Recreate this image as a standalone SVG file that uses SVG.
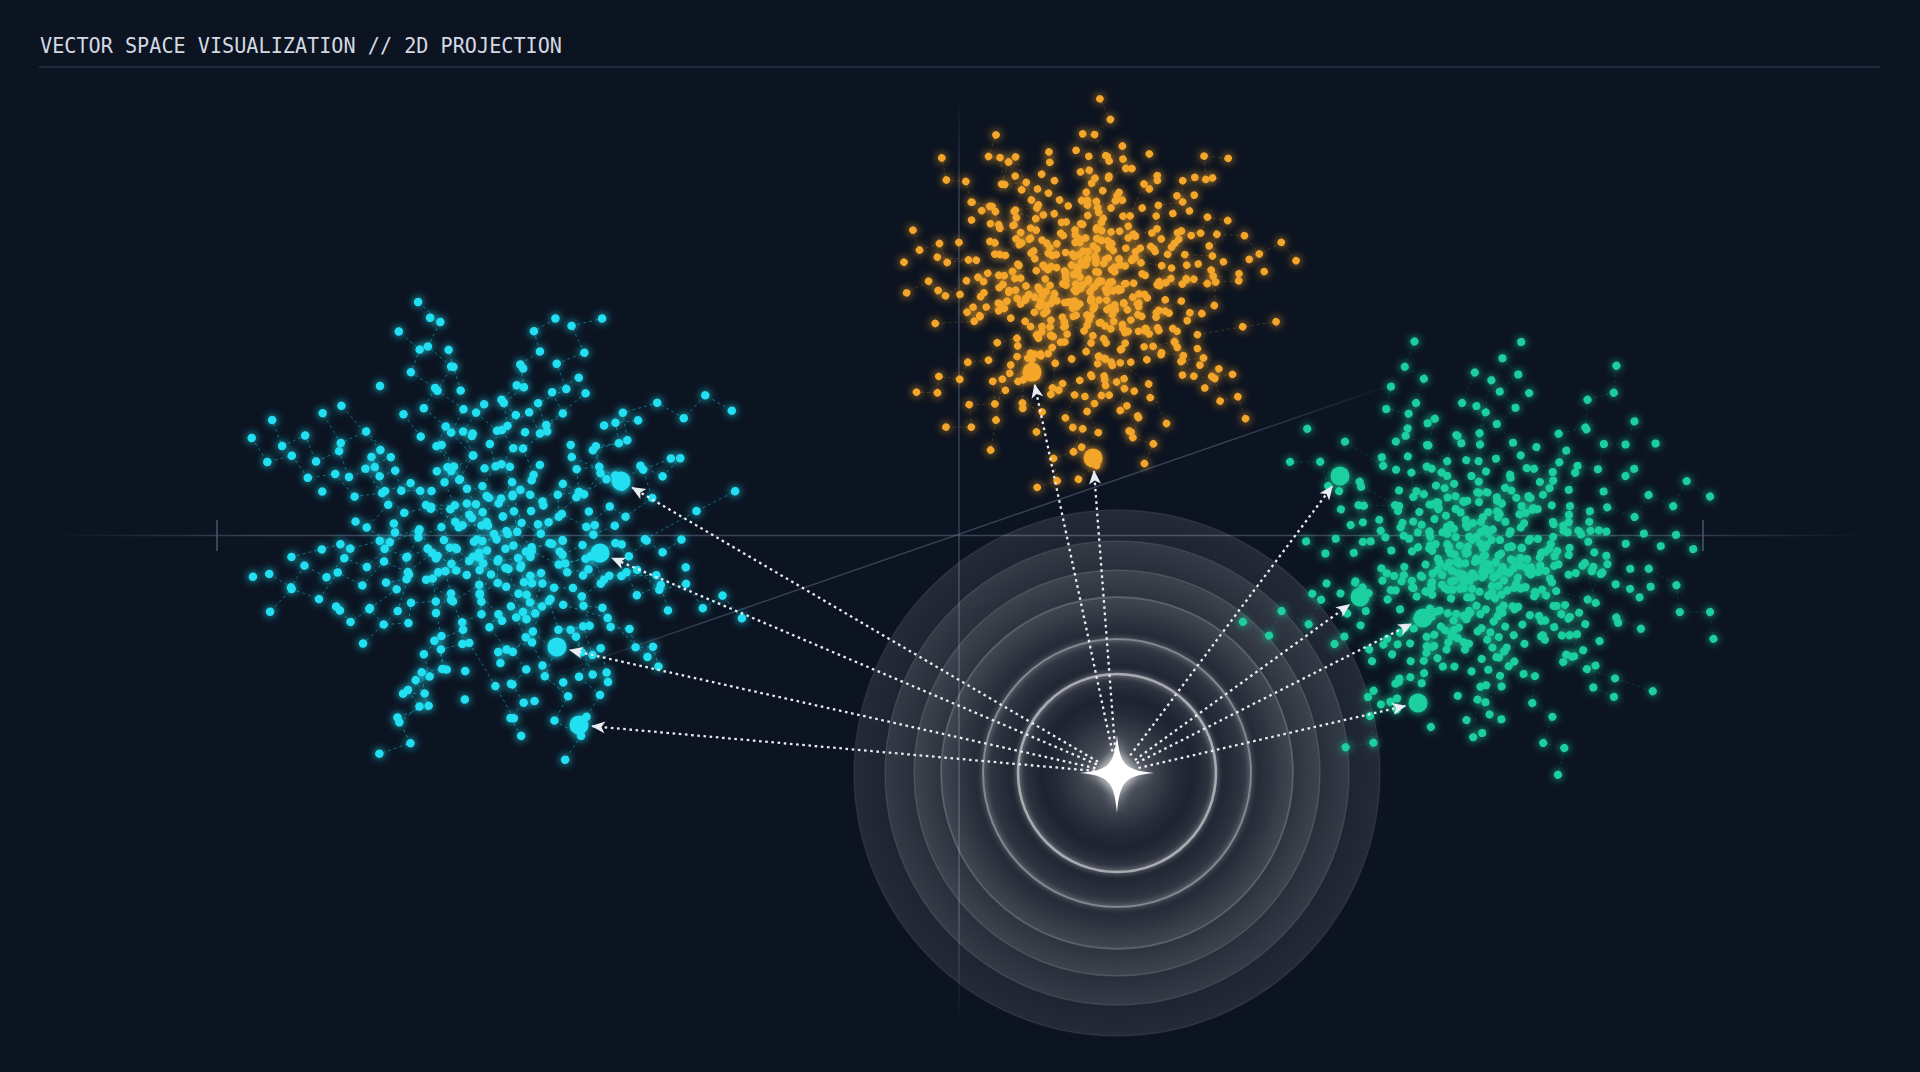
<svg xmlns="http://www.w3.org/2000/svg" xmlns:xlink="http://www.w3.org/1999/xlink" width="1920" height="1072" viewBox="0 0 1920 1072">
<defs>
<style>
.title{font-family:"DejaVu Sans Mono","Liberation Mono",monospace;font-size:20.5px;fill:#d3d9e2}
.arrow{fill:none;stroke:#e9edf3;stroke-width:2.3;stroke-dasharray:2.6 3.6;marker-end:url(#ah)}
.rim{fill:url(#ringFill);stroke:#ffffff}
.net{fill:none;stroke-width:1;stroke-dasharray:3 3}
</style>
<marker id="ah" markerUnits="userSpaceOnUse" markerWidth="16" markerHeight="14" refX="14" refY="7" orient="auto" viewBox="0 0 16 14">
<path d="M15 7 L1 1 L4.5 7 L1 13 Z" fill="#e9edf3"/>
</marker>
<radialGradient id="ringFill" cx="50%" cy="50%" r="50%">
<stop offset="0" stop-color="#fff" stop-opacity="0"/>
<stop offset="0.6" stop-color="#fff" stop-opacity="0.01"/>
<stop offset="1" stop-color="#fff" stop-opacity="0.10"/>
</radialGradient>
<radialGradient id="starGlow" cx="50%" cy="50%" r="50%">
<stop offset="0" stop-color="#fff" stop-opacity="0.7"/>
<stop offset="0.3" stop-color="#fff" stop-opacity="0.25"/>
<stop offset="1" stop-color="#fff" stop-opacity="0"/>
</radialGradient>
<linearGradient id="hAxis" gradientUnits="userSpaceOnUse" x1="50" y1="0" x2="1870" y2="0">
<stop offset="0" stop-color="#5a6680" stop-opacity="0"/>
<stop offset="0.12" stop-color="#5a6680" stop-opacity="0.6"/>
<stop offset="0.88" stop-color="#5a6680" stop-opacity="0.6"/>
<stop offset="1" stop-color="#5a6680" stop-opacity="0"/>
</linearGradient>
<linearGradient id="vAxis" gradientUnits="userSpaceOnUse" x1="0" y1="95" x2="0" y2="1025">
<stop offset="0" stop-color="#5a6680" stop-opacity="0"/>
<stop offset="0.12" stop-color="#5a6680" stop-opacity="0.55"/>
<stop offset="0.88" stop-color="#5a6680" stop-opacity="0.55"/>
<stop offset="1" stop-color="#5a6680" stop-opacity="0"/>
</linearGradient>
<linearGradient id="dAxis" gradientUnits="userSpaceOnUse" x1="540" y1="679" x2="1408" y2="379">
<stop offset="0" stop-color="#5a6680" stop-opacity="0"/>
<stop offset="0.2" stop-color="#5a6680" stop-opacity="0.55"/>
<stop offset="0.8" stop-color="#5a6680" stop-opacity="0.55"/>
<stop offset="1" stop-color="#5a6680" stop-opacity="0"/>
</linearGradient>
<filter id="glow" x="-20%" y="-20%" width="140%" height="140%">
<feGaussianBlur in="SourceGraphic" stdDeviation="4" result="b"/>
<feMerge><feMergeNode in="b"/><feMergeNode in="SourceGraphic"/></feMerge>
</filter>
<filter id="soft" x="-20%" y="-20%" width="140%" height="140%">
<feGaussianBlur stdDeviation="2.5"/>
</filter>
<filter id="starBlur" x="-50%" y="-50%" width="200%" height="200%">
<feGaussianBlur stdDeviation="6"/>
</filter>
<path id="pd" fill="none" stroke-linecap="round" vector-effect="non-scaling-stroke" d="M0 0h.01M22 -15h.01M40 -8h.01M55 -30h.01M78 -22h.01M95 -45h.01M110 -38h.01M130 -60h.01M118 -85h.01M140 -100h.01M-10 20h.01M-32 35h.01M-50 28h.01M-68 50h.01M-90 44h.01M-105 70h.01M-128 62h.01M-140 90h.01M-165 85h.01M-180 110h.01M15 30h.01M30 52h.01M52 60h.01M48 85h.01M70 100h.01M65 125h.01M88 140h.01M80 165h.01M105 175h.01M95 200h.01M-20 -25h.01M-38 -45h.01M-30 -70h.01M-52 -88h.01M-45 -112h.01M-70 -125h.01M-62 -150h.01M-85 -165h.01M-78 -190h.01M-100 -205h.01M35 10h.01M60 18h.01M82 8h.01M105 20h.01M128 10h.01M150 25h.01M172 15h.01M190 35h.01M205 20h.01M225 38h.01M-35 -5h.01M-58 -15h.01M-80 -5h.01M-102 -20h.01M-125 -12h.01M-145 -30h.01M-168 -22h.01M-185 -40h.01M-205 -30h.01M-222 -50h.01M10 -40h.01M25 -62h.01M12 -85h.01M30 -105h.01M18 -130h.01M40 -148h.01M28 -170h.01M50 -185h.01M35 -208h.01M60 -220h.01M-5 50h.01M-25 70h.01M-12 95h.01M-35 110h.01M-20 135h.01M-45 150h.01M-30 172h.01M-55 188h.01M-40 210h.01M-65 225h.01M45 -20h.01M65 -48h.01M88 -70h.01M72 -95h.01M100 -110h.01M92 -135h.01M120 -150h.01M145 -140h.01M160 -165h.01M185 -155h.01M-45 30h.01M-65 10h.01M-88 25h.01M-110 15h.01M-95 -10h.01M-120 -40h.01M-100 -55h.01M-125 -75h.01M-145 -60h.01M-165 -85h.01M12 12h.01M-14 8h.01M5 -18h.01M-8 -10h.01M28 25h.01M-24 -14h.01M40 40h.01M-42 45h.01M-30 -38h.01M38 -35h.01M60 -5h.01M-60 -30h.01M70 55h.01M-75 68h.01M20 80h.01M-18 -60h.01M85 -25h.01M-85 15h.01M55 -85h.01M-50 -55h.01M110 60h.01M-110 -60h.01M130 -20h.01M-130 35h.01M25 120h.01M-28 -120h.01M150 90h.01M-150 -95h.01M95 -75h.01M-95 90h.01M170 -55h.01M-170 55h.01M60 150h.01M-60 -150h.01M200 -80h.01M-200 80h.01M120 120h.01M-120 -120h.01M0 160h.01M0 -160h.01"/>
<path id="pl" fill="none" vector-effect="non-scaling-stroke" d="M0 0L22 -15L40 -8L55 -30L78 -22L95 -45L110 -38L130 -60L118 -85L140 -100M0 0L-10 20L-32 35L-50 28L-68 50L-90 44L-105 70L-128 62L-140 90L-165 85L-180 110M-10 20L15 30L30 52L52 60L48 85L70 100L65 125L88 140L80 165L105 175L95 200M0 0L-20 -25L-38 -45L-30 -70L-52 -88L-45 -112L-70 -125L-62 -150L-85 -165L-78 -190L-100 -205M15 30L35 10L60 18L82 8L105 20L128 10L150 25L172 15L190 35L205 20L225 38M-20 -25L-35 -5L-58 -15L-80 -5L-102 -20L-125 -12L-145 -30L-168 -22L-185 -40L-205 -30L-222 -50M22 -15L10 -40L25 -62L12 -85L30 -105L18 -130L40 -148L28 -170L50 -185L35 -208L60 -220M-10 20L-5 50L-25 70L-12 95L-35 110L-20 135L-45 150L-30 172L-55 188L-40 210L-65 225M40 -8L45 -20L65 -48L88 -70L72 -95L100 -110L92 -135L120 -150L145 -140L160 -165L185 -155M-32 35L-45 30L-65 10L-88 25L-110 15L-95 -10L-120 -40L-100 -55L-125 -75L-145 -60L-165 -85M70 55L110 60L150 90M-75 68L-95 90M-110 -60L-150 -95M95 -75L55 -85M-130 35L-170 55M130 -20L170 -55L200 -80"/>
</defs>

<rect width="1920" height="1072" fill="#0c1321"/>

<g id="title">
<text class="title" x="40" y="53" textLength="522" lengthAdjust="spacingAndGlyphs">VECTOR SPACE VISUALIZATION // 2D PROJECTION</text>
<line x1="39" y1="67" x2="1880" y2="67" stroke="#27324a" stroke-width="1.5"/>
</g>

<g id="axes" fill="none">
<line x1="50" y1="535.5" x2="1870" y2="535.5" stroke="url(#hAxis)" stroke-width="1.6"/>
<line x1="217" y1="520" x2="217" y2="551" stroke="#4a5570" stroke-width="1.5"/>
<line x1="1703" y1="520" x2="1703" y2="551" stroke="#4a5570" stroke-width="1.5"/>
<line x1="959" y1="95" x2="959" y2="1025" stroke="url(#vAxis)" stroke-width="1.5"/>
<line x1="540" y1="679" x2="1408" y2="379" stroke="url(#dAxis)" stroke-width="1.5"/>
</g>

<g id="ripples">
<circle class="rim" cx="1117" cy="773" r="263" stroke-opacity="0.08" stroke-width="1.5"/>
<circle class="rim" cx="1117" cy="773" r="232" stroke-opacity="0.10" stroke-width="1.5"/>
<circle class="rim" cx="1117" cy="773" r="203" stroke-opacity="0.12" stroke-width="1.5"/>
<circle class="rim" cx="1117" cy="773" r="176" stroke-opacity="0.18" stroke-width="1.8"/>
<circle class="rim" cx="1117" cy="773" r="134" stroke-opacity="0.32" stroke-width="2"/>
<circle class="rim" cx="1117" cy="773" r="99" stroke-opacity="0.5" stroke-width="2.5"/>
<g fill="none" stroke="#fff" filter="url(#soft)">
<circle cx="1117" cy="773" r="134" stroke-opacity="0.2" stroke-width="5"/>
<circle cx="1117" cy="773" r="99" stroke-opacity="0.3" stroke-width="5"/>
</g>
</g>

<g id="cluster-cyan" filter="url(#glow)">
<g stroke="#22dcef" class="net" stroke-opacity="0.45">
<use xlink:href="#pl" href="#pl" transform="translate(494 534) rotate(10) scale(1.15 1.05)"/>
<use xlink:href="#pl" href="#pl" transform="translate(472 518) rotate(100) scale(0.95)"/>
<use xlink:href="#pl" href="#pl" transform="translate(518 558) rotate(205) scale(0.78)"/>
</g>
<g stroke="#22e0f2" stroke-width="8.5">
<use xlink:href="#pd" href="#pd" transform="translate(494 534) rotate(10) scale(1.15 1.05)"/>
<use xlink:href="#pd" href="#pd" transform="translate(472 518) rotate(100) scale(0.95)"/>
<use xlink:href="#pd" href="#pd" transform="translate(518 558) rotate(205) scale(0.78)"/>
</g>
</g>

<g id="cluster-orange" filter="url(#glow)">
<g stroke="#f2a52a" class="net" stroke-opacity="0.22">
<use xlink:href="#pl" href="#pl" transform="translate(1090 292) rotate(30) scale(0.88 0.84)"/>
<use xlink:href="#pl" href="#pl" transform="translate(1070 302) rotate(140) scale(0.78)"/>
</g>
<g stroke="#f4a62a" stroke-width="7.5">
<use xlink:href="#pd" href="#pd" transform="translate(1090 292) rotate(30) scale(0.88 0.84)"/>
<use xlink:href="#pd" href="#pd" transform="translate(1070 302) rotate(140) scale(0.78)"/>
<use xlink:href="#pd" href="#pd" transform="translate(1110 282) rotate(250) scale(0.66)"/>
<use xlink:href="#pd" href="#pd" transform="translate(1080 277) rotate(330) scale(0.52)"/>
</g>
</g>

<g id="cluster-green" filter="url(#glow)">
<g stroke="#1fcf9f" class="net" stroke-opacity="0.18">
<use xlink:href="#pl" href="#pl" transform="translate(1480 560) rotate(60) scale(1 1.05)"/>
<use xlink:href="#pl" href="#pl" transform="translate(1500 540) rotate(170) scale(0.85)"/>
</g>
<g stroke="#1fcf9f" stroke-width="8">
<use xlink:href="#pd" href="#pd" transform="translate(1480 560) rotate(60) scale(1 1.05)"/>
<use xlink:href="#pd" href="#pd" transform="translate(1500 540) rotate(170) scale(0.85)"/>
<use xlink:href="#pd" href="#pd" transform="translate(1462 578) rotate(290) scale(0.66)"/>
<use xlink:href="#pd" href="#pd" transform="translate(1490 570) rotate(20) scale(0.48)"/>
</g>
</g>

<g id="connectors">
<path class="arrow" d="M1098 761.8 L632.2 487.6"/>
<path class="arrow" d="M1096.8 764.4 L612 558.1"/>
<path class="arrow" d="M1095.5 768.2 L569.7 649.9"/>
<path class="arrow" d="M1095.1 771 L592 726.2"/>
<path class="arrow" d="M1112.4 751.5 L1034.7 384.7"/>
<path class="arrow" d="M1115.3 751.1 L1094 471"/>
<path class="arrow" d="M1130.2 755.4 L1332.2 486.4"/>
<path class="arrow" d="M1134.8 760.1 L1349.5 604.6"/>
<path class="arrow" d="M1136.6 763.1 L1411.4 623.9"/>
<path class="arrow" d="M1138.4 768 L1405.3 705.9"/>
</g>

<g id="targets" filter="url(#glow)">
<g id="t-c1"><circle cx="621" cy="481" r="9.5" fill="#22e0f2"/></g>
<g id="t-c2"><circle cx="600" cy="553" r="9.5" fill="#22e0f2"/></g>
<g id="t-c3"><circle cx="557" cy="647" r="9.5" fill="#22e0f2"/></g>
<g id="t-c4"><circle cx="579" cy="725" r="9.5" fill="#22e0f2"/></g>
<g id="t-o1"><circle cx="1032" cy="372" r="9.5" fill="#f4a62a"/></g>
<g id="t-o2"><circle cx="1093" cy="458" r="9.5" fill="#f4a62a"/></g>
<g id="t-g1"><circle cx="1340" cy="476" r="9.5" fill="#1fcf9f"/></g>
<g id="t-g2"><circle cx="1360" cy="597" r="9.5" fill="#1fcf9f"/></g>
<g id="t-g3"><circle cx="1423" cy="618" r="9.5" fill="#1fcf9f"/></g>
<g id="t-g4"><circle cx="1418" cy="703" r="9.5" fill="#1fcf9f"/></g>
</g>

<g id="query-star">
<circle cx="1117" cy="773" r="75" fill="url(#starGlow)"/>
<path d="M1117 735 C1120 765 1125 770 1154 773 C1125 776 1120 781 1117 813 C1114 781 1109 776 1080 773 C1109 770 1114 765 1117 735 Z" fill="#fff" filter="url(#starBlur)" opacity="0.8"/>
<path d="M1117 735 C1120 765 1125 770 1154 773 C1125 776 1120 781 1117 813 C1114 781 1109 776 1080 773 C1109 770 1114 765 1117 735 Z" fill="#ffffff"/>
</g>
</svg>
